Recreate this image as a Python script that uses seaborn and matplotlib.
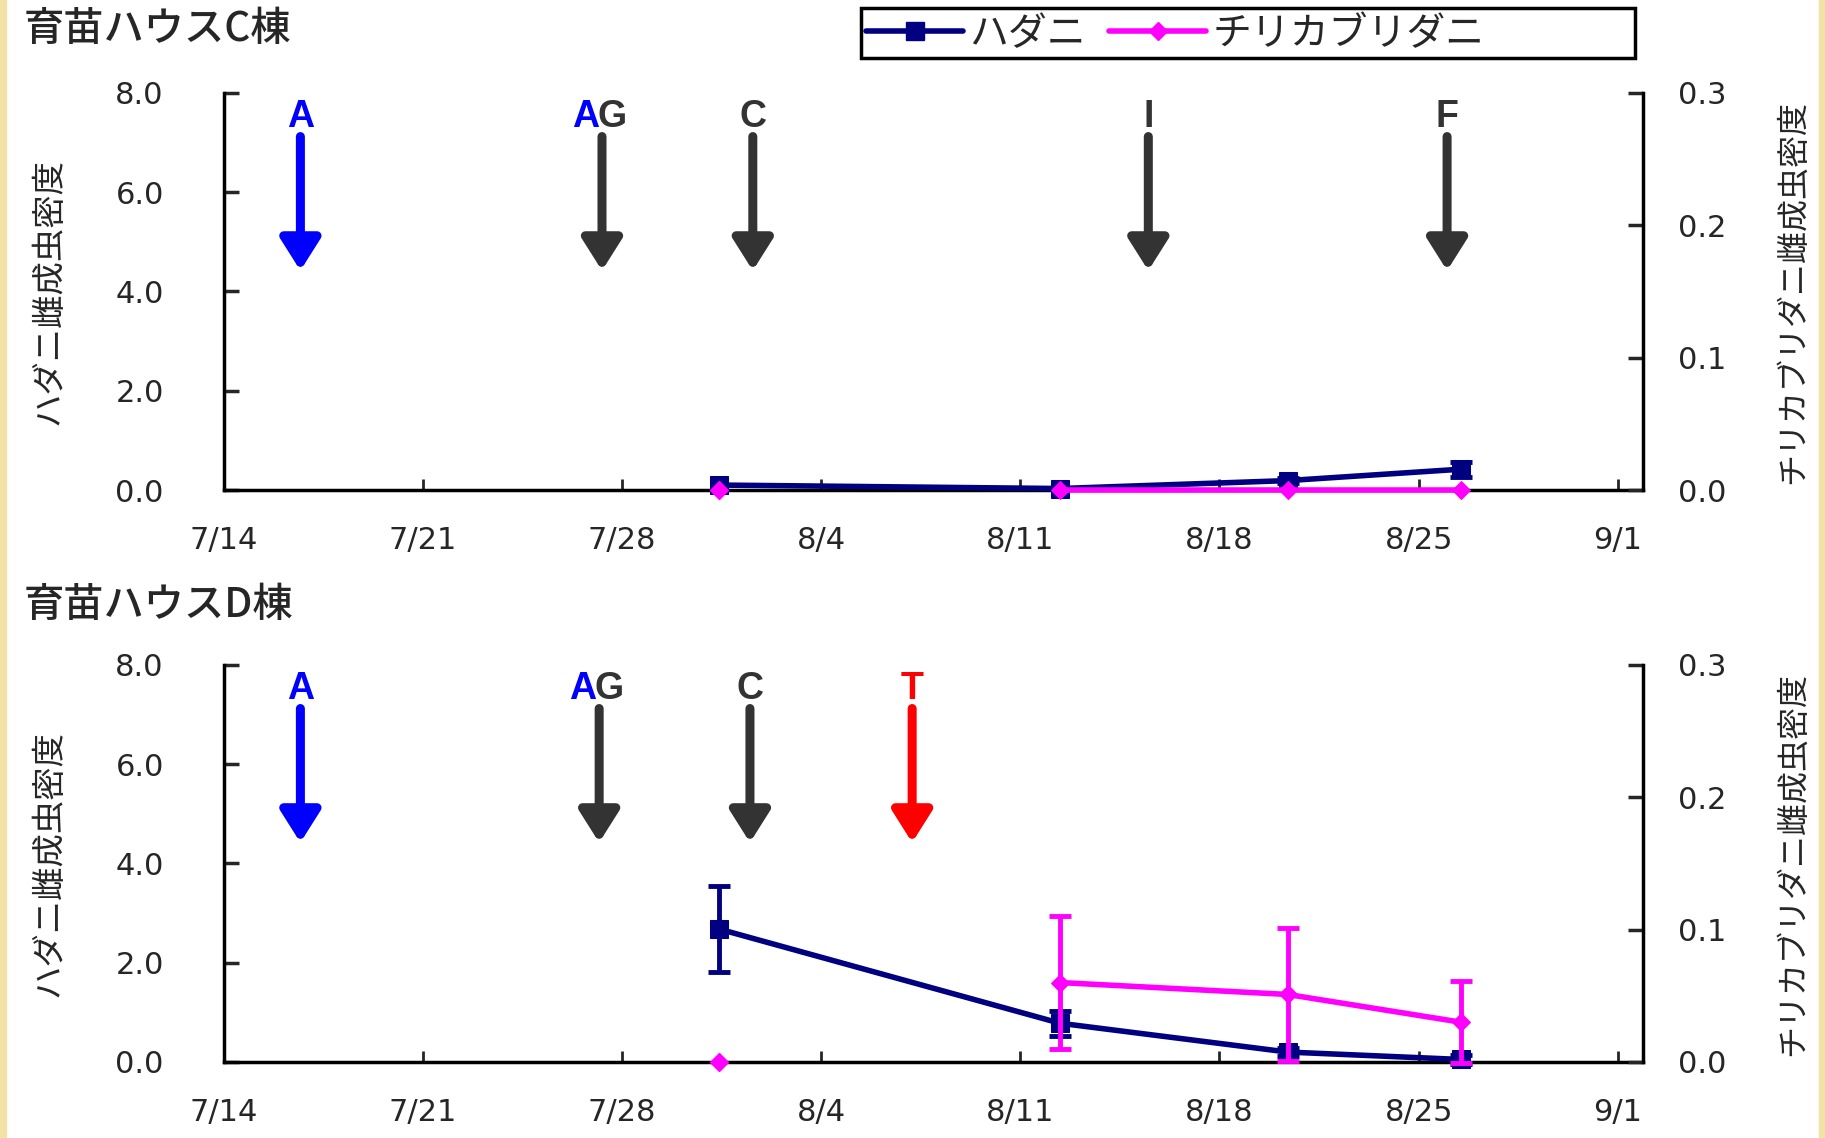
import matplotlib
matplotlib.use('Agg')
import matplotlib.pyplot as plt
import seaborn as sns
import numpy as np
from matplotlib.lines import Line2D
from matplotlib.patches import Rectangle

sns.set_style('white')
plt.rcParams['font.family'] = ['Noto Sans CJK JP', 'DejaVu Sans']

# x axis: days counted from 7/14
tick_days = [0, 7, 14, 21, 28, 35, 42, 49]
tick_labels = ['7/14', '7/21', '7/28', '8/4', '8/11', '8/18', '8/25', '9/1']
survey_days = [17.4, 29.4, 37.4, 43.5]

# house C
c_hadani = [0.10, 0.03, 0.19, 0.42]
c_hadani_err = [0.0, 0.0, 0.05, 0.15]
c_chiri = [0.0, 0.0, 0.0, 0.0]
c_chiri_err = [0.0, 0.0, 0.0, 0.0]

# house D
d_hadani = [2.68, 0.78, 0.20, 0.05]
d_hadani_err = [0.87, 0.25, 0.08, 0.10]
d_chiri = [0.0, 0.060, 0.051, 0.030]
d_chiri_err = [0.0, 0.050, 0.050, 0.031]

# spray events
c_spray_days = [2.7, 13.3, 18.6, 32.5, 43.0]
c_spray_labels = ['A', 'AG', 'C', 'I', 'F']
d_spray_days = [2.7, 13.2, 18.5, 24.2]
d_spray_labels = ['A', 'AG', 'C', 'T']

NAVY = '#000080'
PINK = '#FF00FF'
GRAY = '#333333'
BLUE = '#0000FF'
RED = '#FF0000'
spray_colors = {'A': BLUE, 'AG': GRAY, 'C': GRAY, 'I': GRAY, 'F': GRAY, 'T': RED}


def draw_panel(ax, hadani, hadani_err, chiri, chiri_err, spray_days, spray_labels):
    ax2 = ax.twinx()

    # ハダニ on left axis
    sns.lineplot(x=survey_days, y=hadani, ax=ax, color=NAVY, lw=4, marker='s',
                 markersize=13, markeredgecolor=NAVY, clip_on=False, zorder=3)
    m = np.array(hadani_err) > 0
    ax.errorbar(np.array(survey_days)[m], np.array(hadani)[m], yerr=np.array(hadani_err)[m],
                fmt='none', ecolor=NAVY, elinewidth=3.5, capsize=8, capthick=3.5, clip_on=False, zorder=3)

    # チリカブリダニ on right axis (no line between the first two surveys)
    sns.lineplot(x=survey_days[1:], y=chiri[1:], ax=ax2, color=PINK, lw=4, marker='D',
                 markersize=9, markeredgecolor=PINK, clip_on=False, zorder=4)
    ax2.plot(survey_days[:1], chiri[:1], ls='none', marker='D', markersize=9,
             color=PINK, clip_on=False, zorder=4)
    m = np.array(chiri_err) > 0
    ax2.errorbar(np.array(survey_days)[m], np.array(chiri)[m], yerr=np.array(chiri_err)[m],
                 fmt='none', ecolor=PINK, elinewidth=3.5, capsize=8, capthick=3.5, clip_on=False, zorder=4)

    ax.set_xlim(0, 49.9)
    ax.set_ylim(0, 8)
    ax2.set_ylim(0, 0.3)
    ax.set_xticks(tick_days)
    ax.set_xticklabels(tick_labels, family='DejaVu Sans')
    ax.set_yticks([0, 2, 4, 6, 8])
    ax.set_yticklabels(['0.0', '2.0', '4.0', '6.0', '8.0'], family='DejaVu Sans')
    ax2.set_yticks([0, 0.1, 0.2, 0.3])
    ax2.set_yticklabels(['0.0', '0.1', '0.2', '0.3'], family='DejaVu Sans')

    for s in ['top', 'right']:
        ax.spines[s].set_visible(False)
    for s in ['top', 'left', 'bottom']:
        ax2.spines[s].set_visible(False)
    for s in ['left', 'bottom']:
        ax.spines[s].set_linewidth(2.5)
        ax.spines[s].set_color('black')
    ax2.spines['right'].set_linewidth(2.5)
    ax2.spines['right'].set_color('black')

    ax.tick_params(axis='y', direction='in', length=11, width=2.5, pad=43, labelsize=22, left=True)
    ax.tick_params(axis='x', direction='in', length=8, width=2, pad=26, labelsize=22, bottom=True)
    ax2.tick_params(axis='y', direction='in', length=11, width=2.5, pad=25, labelsize=22, right=True)
    ax.set_xlabel('')
    ax.set_ylabel('')
    ax2.set_ylabel('')

    # spray arrows
    for d, lab in zip(spray_days, spray_labels):
        col = spray_colors[lab]
        ax.annotate('', xy=(d, 4.42), xytext=(d, 7.12),
                    arrowprops=dict(arrowstyle='-|>,head_length=19,head_width=12',
                                    color=col, lw=6.5, shrinkA=0, shrinkB=0,
                                    mutation_scale=1))
        if lab == 'AG':
            ax.annotate('A', xy=(d, 7.52), xytext=(-2, 0), textcoords='offset points',
                        ha='right', va='center', color=BLUE, fontsize=27,
                        family='Liberation Sans', fontweight='bold')
            ax.annotate('G', xy=(d, 7.52), xytext=(-3, 0), textcoords='offset points',
                        ha='left', va='center', color=GRAY, fontsize=27,
                        family='Liberation Sans', fontweight='bold')
        else:
            ax.text(d, 7.52, lab, ha='center', va='center', color=col, fontsize=27,
                    family='Liberation Sans', fontweight='bold')
    return ax2


fig = plt.figure(figsize=(18.25, 11.38), dpi=100)
fig.patch.set_facecolor('white')

ax_c = fig.add_axes([0.1225, 0.5694, 0.778, 0.349])
ax_d = fig.add_axes([0.1225, 0.0668, 0.778, 0.349])
draw_panel(ax_c, c_hadani, c_hadani_err, c_chiri, c_chiri_err, c_spray_days, c_spray_labels)
draw_panel(ax_d, d_hadani, d_hadani_err, d_chiri, d_chiri_err, d_spray_days, d_spray_labels)

# panel titles and axis labels
fig.text(0.0128, 0.9745, '育苗ハウスC棟', ha='left', va='center', fontsize=29, fontweight='medium')
fig.text(0.0128, 0.468, '育苗ハウスD棟', ha='left', va='center', fontsize=29, fontweight='medium')
for yc in [0.7438, 0.2412]:
    fig.text(0.0268, yc, 'ハダニ雌成虫密度', rotation=90, ha='center', va='center', fontsize=24)
    fig.text(0.9823, yc, 'チリカブリダニ雌成虫密度', rotation=90, ha='center', va='center', fontsize=23)

# legend: items on the left of a wider box
fig.patches.append(Rectangle((861 / 1825, 1 - 58 / 1138), 774 / 1825, 50 / 1138,
                             transform=fig.transFigure, fill=False, edgecolor='black',
                             linewidth=2.5, zorder=5))
handles = [Line2D([], [], color=NAVY, lw=4, marker='s', markersize=13),
           Line2D([], [], color=PINK, lw=4, marker='D', markersize=9)]
fig.legend(handles, ['ハダニ', 'チリカブリダニ'], loc='center left',
           bbox_to_anchor=(866 / 1825, 1 - 34 / 1138), ncol=2, fontsize=28,
           frameon=False, handlelength=2.5, handletextpad=0.15, columnspacing=0.6,
           borderpad=0, borderaxespad=0)

# beige edge strips
fig.patches.append(Rectangle((0, 0), 6 / 1825, 1, transform=fig.transFigure,
                             color='#F2E2A6', zorder=0))
fig.patches.append(Rectangle((1819 / 1825, 0), 6 / 1825, 1, transform=fig.transFigure,
                             color='#F2E2A6', zorder=0))

fig.savefig('out.png', dpi=100)
